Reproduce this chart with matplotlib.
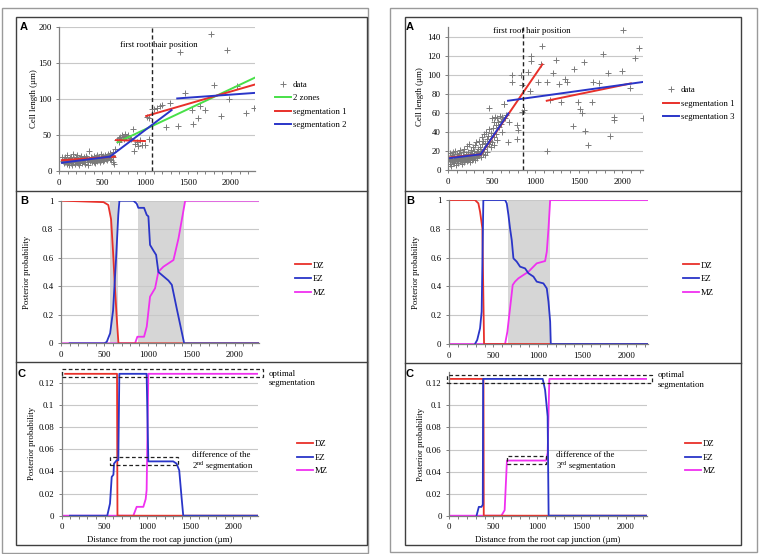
import numpy as np
import matplotlib
matplotlib.use("Agg")
import matplotlib.pyplot as plt
from matplotlib.lines import Line2D
from matplotlib.patches import Rectangle

plt.rcParams['font.family'] = ['Liberation Serif', 'DejaVu Serif']
plt.rcParams['font.size'] = 6.3
plt.rcParams['mathtext.fontset'] = 'custom'
plt.rcParams['mathtext.rm'] = 'Liberation Serif'

W, H = 759, 554

RED = '#e8302a'
BLUE = '#2a35c8'
MAGENTA = '#f030f0'
GREEN = '#48e048'
GREY_PTS = '#7a7a7a'

# ---------------- data: left panel A (cell length) ----------------
la_x = [30, 40, 50, 55, 65, 70, 80, 85, 95, 100, 105, 115, 120, 125, 135, 140, 145, 150,
        160, 165, 170, 180, 185, 190, 200, 205, 210, 220, 225, 230, 240, 245, 250, 260,
        265, 270, 280, 285, 290, 300, 305, 310, 320, 325, 330, 340, 345, 350, 360, 365,
        370, 380, 385, 390, 400, 405, 410, 420, 425, 430, 440, 445, 450, 460, 465, 470,
        480, 485, 490, 500, 505, 510, 520, 525, 530, 540, 545, 550, 560, 565, 570, 580,
        585, 590, 600, 605, 610, 620, 625, 630, 640, 650,
        670, 690, 700, 710, 720, 730, 740, 750, 760, 770, 780, 800, 820, 840, 860, 870,
        880, 900, 920, 940, 960, 1000, 1020, 1040, 1050,
        1080, 1100, 1140, 1170, 1200, 1240, 1290, 1380, 1410, 1470, 1545, 1553, 1618,
        1634, 1700, 1762, 1797, 1882, 1952, 1975, 2076, 2173, 2270]
la_y = [20, 14, 17, 11, 19, 13, 16, 10, 22, 15, 12, 9, 18, 14, 11, 20, 16, 8,
        13, 23, 17, 10, 15, 12, 19, 14, 22, 11, 16, 9, 18, 13, 21, 15,
        11, 17, 14, 19, 12, 16, 10, 21, 15, 18, 13, 8, 17, 28, 14, 20,
        16, 12, 18, 15, 21, 13, 17, 11, 19, 16, 14, 22, 18, 15, 20, 12,
        17, 23, 16, 19, 14, 21, 18, 16, 22, 17, 20, 15, 19, 24, 18, 21,
        17, 25, 20, 16, 22, 19, 12, 27, 10, 31,
        43, 46, 41, 48, 44, 50, 47, 45, 49, 52, 47, 50, 46, 44, 59, 28,
        38, 41, 35, 43, 36, 36, 75, 44, 74,
        86, 86, 87, 90, 92, 61, 94, 62, 165, 108, 85, 65, 74,
        90, 85, 191, 119, 77, 168, 100, 118, 81, 88]

# fitted lines, left A: (x_start, x_end), (y_start, y_end)
two_zones_x = [680, 2280]
two_zones_y = [40, 130]
seg1_left = [([30, 650], [15, 20]), ([660, 998], [43, 41.7]), ([1012, 2280], [76.5, 120.4])]
seg2_left = [([30, 590], [11.5, 20]), ([590, 1308], [20, 84.7]), ([1374, 2278], [101, 108.7])]
root_hair_left = 1076

# ---------------- data: right panel A ----------------
ra_x = [10, 15, 20, 25, 30, 35, 40, 45, 50, 55, 60, 65, 70, 75, 80, 85, 90, 95, 100, 105,
        110, 115, 120, 125, 130, 135, 140, 145, 150, 155, 160, 165, 170, 175, 180, 185,
        190, 195, 200, 205, 210, 215, 220, 225, 230, 235, 240, 245, 250, 255, 260, 265,
        270, 275, 280, 285, 290, 295, 300, 305, 310, 315, 320, 325, 330, 335, 340, 345,
        350, 360, 365, 370, 380, 385, 390, 395, 400, 410, 415, 420, 425, 430, 440, 445,
        450, 460, 465, 470, 480, 485, 490, 500, 505, 510, 520, 525, 530, 540, 545, 550,
        560, 565, 570, 580, 590, 600, 610, 620, 640, 650, 660, 690, 700,
        471, 644, 613, 732, 729, 786, 801, 786, 839, 851, 849, 867, 920, 943, 947, 954,
        1031, 1069, 1073, 1134, 1134, 1169, 1200, 1241, 1276, 1292, 1341, 1368, 1430,
        1445, 1491, 1510, 1537, 1563, 1571, 1602, 1652, 1667, 1736, 1778, 1832, 1858,
        1905, 1908, 1993, 2011, 2084, 2146, 2192, 2238]
ra_y = [12, 6, 18, 9, 14, 4, 11, 16, 8, 19, 12, 7, 15, 10, 20, 5, 13, 17, 9, 11,
        15, 7, 18, 12, 9, 14, 21, 10, 16, 6, 13, 19, 11, 15, 8, 22,
        14, 10, 17, 12, 25, 9, 15, 19, 11, 14, 27, 8, 17, 13, 21, 15,
        10, 18, 24, 12, 16, 20, 14, 26, 11, 17, 29, 15, 19, 13, 22, 16,
        30, 18, 24, 14, 20, 35, 27, 17, 31, 22, 38, 16, 28, 40, 25, 33,
        19, 36, 27, 43, 30, 24, 39, 55, 29, 44, 35, 50, 26, 56, 47, 38,
        55, 32, 50, 45, 57, 52, 48, 40, 69, 55, 58, 29, 50,
        65, 69, 56, 100, 93, 47, 42, 33, 100, 89, 61, 63, 103, 83, 115, 120,
        93, 111, 130, 93, 20, 74, 102, 116, 90, 71, 96, 92, 46,
        106, 72, 64, 60, 114, 41, 26, 72, 92, 91, 122, 102, 36,
        56, 53, 104, 147, 86, 118, 128, 55]

seg1_right = [([0, 372], [13, 16.5]), ([372, 1080], [16, 111]), ([1131, 2097], [72.8, 91])]
seg3_right = [([0, 372], [12.3, 16.5]), ([372, 690], [16.5, 59.5]), ([686, 2249], [72.8, 92.7])]
root_hair_right = 862

# ---------------- data: panel B (posterior probability) ----------------
lb_dz_x = [20, 490, 545, 577, 600, 620, 642, 662, 2285]
lb_dz_y = [1, 0.99, 0.97, 0.87, 0.64, 0.41, 0.18, 0, 0]
lb_ez_x = [100, 500, 527, 566, 600, 635, 660, 673, 834, 872, 891, 957, 988, 1007, 1026,
           1065, 1096, 1122, 1238, 1277, 1335, 1419, 2285]
lb_ez_y = [0, 0, 0.01, 0.07, 0.23, 0.6, 0.9, 1, 1, 0.98, 0.95, 0.95, 0.9, 0.89, 0.69,
           0.65, 0.62, 0.5, 0.44, 0.41, 0.24, 0, 0]
lb_mz_x = [0, 853, 880, 957, 988, 1026, 1084, 1122, 1180, 1296, 1354, 1431, 2285]
lb_mz_y = [0, 0, 0.046, 0.046, 0.117, 0.327, 0.386, 0.502, 0.537, 0.584, 0.736, 1, 1]
lb_spans = [(566, 661), (884, 1418)]

rb_dz_x = [0, 292, 330, 349, 375, 394, 2240]
rb_dz_y = [1, 1, 0.977, 0.919, 0.803, 0, 0]
rb_ez_x = [292, 317, 349, 367, 386, 630, 649, 668, 686, 705, 724, 761, 799, 855, 893,
           949, 986, 1061, 1099, 1118, 1137, 1144, 2240]
rb_ez_y = [0, 0.028, 0.109, 0.225, 1, 1, 0.977, 0.896, 0.803, 0.722, 0.595, 0.572, 0.537,
           0.525, 0.491, 0.468, 0.433, 0.421, 0.386, 0.294, 0.155, 0, 0]
rb_mz_x = [0, 630, 656, 686, 716, 742, 780, 836, 893, 949, 986, 1080, 1099, 1118, 1137, 2240]
rb_mz_y = [0, 0, 0.085, 0.248, 0.41, 0.433, 0.456, 0.479, 0.502, 0.537, 0.56, 0.576,
           0.641, 0.8, 1, 1]
rb_spans = [(660, 1137)]

# ---------------- data: panel C ----------------
lc_dz_x = [40, 645, 650, 2285]
lc_dz_y = [0.128, 0.128, 0, 0]
lc_ez_x = [97, 531, 563, 583, 603, 610, 641, 660, 672, 990, 1010, 1300, 1339, 1370, 1398,
           1417, 2285]
lc_ez_y = [0, 0, 0.011, 0.035, 0.037, 0.047, 0.05, 0.05, 0.128, 0.128, 0.049, 0.049,
           0.047, 0.041, 0.016, 0, 0]
lc_mz_x = [0, 835, 874, 952, 979, 990, 1010, 2285]
lc_mz_y = [0, 0, 0.008, 0.008, 0.015, 0.023, 0.128, 0.128]

rc_dz_x = [0, 388, 391, 2240]
rc_dz_y = [0.124, 0.124, 0, 0]
rc_ez_x = [309, 335, 365, 380, 384, 1060, 1087, 1116, 1127, 2240]
rc_ez_y = [0, 0.008, 0.008, 0.01, 0.124, 0.124, 0.114, 0.09, 0, 0]
rc_mz_x = [0, 591, 628, 654, 665, 1098, 1116, 1135, 2240]
rc_mz_y = [0, 0, 0.005, 0.05, 0.05, 0.05, 0.057, 0.124, 0.124]


def box(x0, y0, x1, y1):
    # pixel box (top-left origin) -> figure fraction rect
    return [x0 / W, 1 - y1 / H, (x1 - x0) / W, (y1 - y0) / H]


def fx(x):
    return x / W


def fy(y):
    return 1 - y / H


def style(ax, xmax, ymax, yticks, ylabels):
    ax.set_xlim(0, xmax)
    ax.set_ylim(0, ymax)
    ax.set_xticks([0, 500, 1000, 1500, 2000])
    ax.set_xticks(np.arange(0, xmax, 100), minor=True)
    ax.set_yticks(yticks)
    ax.set_yticklabels(ylabels)
    for s in ['top', 'right']:
        ax.spines[s].set_visible(False)
    for s in ['left', 'bottom']:
        ax.spines[s].set_color('#7f7f7f')
        ax.spines[s].set_linewidth(0.9)
    ax.grid(axis='y', color='#c8c8c8', lw=0.8)
    ax.set_axisbelow(True)
    ax.tick_params(which='both', direction='out', color='#7f7f7f', labelsize=6.3,
                   length=2.5, width=0.7, pad=3)
    ax.tick_params(axis='x', which='minor', length=2)
    ax.patch.set_alpha(0)


def legend(fig, handles, labels, x, y):
    fig.legend(handles, labels, loc='center left', bbox_to_anchor=(fx(x), fy(y)),
               frameon=False, fontsize=6.3, handlelength=1.85, handletextpad=0.2,
               labelspacing=0.62, borderpad=0, borderaxespad=0)


fig = plt.figure(figsize=(W / 100, H / 100), dpi=100)

# frames
for (x0, y0, x1, y1) in [(2, 8, 368, 553), (390, 8, 757, 552)]:
    fig.add_artist(Rectangle((fx(x0), fy(y1)), fx(x1 - x0), (y1 - y0) / H, fill=False,
                             ec='#9a9a9a', lw=1.0, transform=fig.transFigure))
for (x0, x1, seps) in [(16, 367, (190.7, 362)), (405, 741, (191, 363))]:
    fig.add_artist(Rectangle((fx(x0), fy(545)), fx(x1 - x0), (545 - 17) / H, fill=False,
                             ec='#404040', lw=1.0, transform=fig.transFigure))
    for s in seps:
        fig.add_artist(Line2D([fx(x0), fx(x1)], [fy(s), fy(s)], color='#404040', lw=1.0,
                              transform=fig.transFigure))

# ---- left A ----
ax = fig.add_axes(box(59.3, 27.3, 255, 171))
style(ax, 2280, 200, [0, 50, 100, 150, 200], ['0', '50', '100', '150', '200'])
ax.plot(la_x, la_y, '+', color=GREY_PTS, ms=4.5, mew=0.7)
ax.plot(two_zones_x, two_zones_y, color=GREEN, lw=1.4)
for xs, ys in seg1_left:
    ax.plot(xs, ys, color=RED, lw=1.4)
for xs, ys in seg2_left:
    ax.plot(xs, ys, color=BLUE, lw=1.4)
ax.axvline(root_hair_left, color='#222222', ls=(0, (3, 2)), lw=1.0)
ax.text(1157, 175, 'first root hair position', ha='center', va='center', fontsize=6.3)
fig.text(fx(34), fy(99), 'Cell length (µm)', rotation=90, ha='center', va='center',
         fontsize=6.3)
legend(fig,
       [Line2D([], [], ls='none', marker='+', color=GREY_PTS, ms=4.5, mew=0.7),
        Line2D([], [], color=GREEN, lw=1.4), Line2D([], [], color=RED, lw=1.4),
        Line2D([], [], color=BLUE, lw=1.4)],
       ['data', '2 zones', 'segmentation 1', 'segmentation 2'], 275, 105)

# ---- right A ----
ax = fig.add_axes(box(448.3, 27.3, 643.3, 170))
style(ax, 2240, 150, list(range(0, 141, 20)), [str(v) for v in range(0, 141, 20)])
ax.plot(ra_x, ra_y, '+', color=GREY_PTS, ms=4.5, mew=0.7)
for xs, ys in seg1_right:
    ax.plot(xs, ys, color=RED, lw=1.4)
for xs, ys in seg3_right:
    ax.plot(xs, ys, color=BLUE, lw=1.4)
ax.axvline(root_hair_right, color='#222222', ls=(0, (3, 2)), lw=1.0)
ax.text(958, 146.5, 'first root hair position', ha='center', va='center', fontsize=6.3)
fig.text(fx(420), fy(97), 'Cell length (µm)', rotation=90, ha='center', va='center',
         fontsize=6.3)
legend(fig,
       [Line2D([], [], ls='none', marker='+', color=GREY_PTS, ms=4.5, mew=0.7),
        Line2D([], [], color=RED, lw=1.4), Line2D([], [], color=BLUE, lw=1.4)],
       ['data', 'segmentation 1', 'segmentation 3'], 663, 103.5)

prob_ticks = [0, 0.2, 0.4, 0.6, 0.8, 1]
prob_labels = ['0', '0.2', '0.4', '0.6', '0.8', '1']
c_ticks = [0, 0.02, 0.04, 0.06, 0.08, 0.1, 0.12]
c_labels = ['0', '0.02', '0.04', '0.06', '0.08', '0.1', '0.12']
zone_handles = [Line2D([], [], color=RED, lw=1.3), Line2D([], [], color=BLUE, lw=1.3),
                Line2D([], [], color=MAGENTA, lw=1.3)]

# ---- B panels ----
for (rect, xmax, dz, ez, mz, spans, ylx, lgx) in [
        ((61, 200.7, 259.3, 343.3), 2285, (lb_dz_x, lb_dz_y), (lb_ez_x, lb_ez_y),
         (lb_mz_x, lb_mz_y), lb_spans, 27, 295),
        ((449, 200, 648.3, 344), 2240, (rb_dz_x, rb_dz_y), (rb_ez_x, rb_ez_y),
         (rb_mz_x, rb_mz_y), rb_spans, 415.7, 683)]:
    ax = fig.add_axes(box(*rect))
    style(ax, xmax, 1, prob_ticks, prob_labels)
    for a, b in spans:
        ax.axvspan(a, b, color='#d6d6d6', lw=0, zorder=0.5)
    ax.plot(*mz, color=MAGENTA, lw=1.3)
    ax.plot(*dz, color=RED, lw=1.3)
    ax.plot(*ez, color=BLUE, lw=1.3)
    fig.text(fx(ylx), fy((rect[1] + rect[3]) / 2), 'Posterior probability', rotation=90,
             ha='center', va='center', fontsize=6.3)
    legend(fig, zone_handles, ['DZ', 'EZ', 'MZ'], lgx, 279)

# ---- C panels ----
for (rect, xmax, dz, ez, mz, opt, opt_txt_y, diff, sup, txtx, ylx, lgx) in [
        ((61.7, 371.6, 257.7, 515.7), 2285, (lc_dz_x, lc_dz_y), (lc_ez_x, lc_ez_y),
         (lc_mz_x, lc_mz_y), (0, 2350, 0.1247, 0.1319), 0.124,
         (563, 1359, 0.0457, 0.0532), '2$^{\\rm nd}$', 1520, 32, 297),
        ((449.3, 372.3, 646.7, 515.7), 2240, (rc_dz_x, rc_dz_y), (rc_ez_x, rc_ez_y),
         (rc_mz_x, rc_mz_y), (-30, 2300, 0.12, 0.1276), 0.123,
         (658, 1098, 0.0469, 0.0541), '3$^{\\rm rd}$', 1211, 420.7, 685)]:
    ax = fig.add_axes(box(*rect))
    style(ax, xmax, 0.13, c_ticks, c_labels)
    ax.plot(*mz, color=MAGENTA, lw=1.3)
    ax.plot(*dz, color=RED, lw=1.3)
    ax.plot(*ez, color=BLUE, lw=1.3)
    for (x0, x1, y0, y1) in [opt, diff]:
        ax.add_patch(Rectangle((x0, y0), x1 - x0, y1 - y0, fill=False, ec='#222222',
                               ls=(0, (3, 2)), lw=0.9, clip_on=False, zorder=5))
    ax.text(opt[1] + 60, opt_txt_y, 'optimal\nsegmentation', ha='left',
            va='center', fontsize=6.3, linespacing=1.25)
    ax.text(txtx, 0.0547, 'difference of the', ha='left', va='center', fontsize=6.3)
    ax.text(txtx, 0.0448, sup + ' segmentation', ha='left', va='center', fontsize=6.3)
    ax.set_xlabel('Distance from the root cap junction (µm)', fontsize=6.3, labelpad=3)
    fig.text(fx(ylx), fy((rect[1] + rect[3]) / 2), 'Posterior probability', rotation=90,
             ha='center', va='center', fontsize=6.3)
    legend(fig, zone_handles, ['DZ', 'EZ', 'MZ'], lgx, 457.5)

# panel letters
for (x, y, s) in [(24, 27, 'A'), (24, 201, 'B'), (22, 374, 'C'),
                  (410, 27, 'A'), (410, 201, 'B'), (410, 374, 'C')]:
    fig.text(fx(x), fy(y), s, ha='center', va='center', fontsize=8, fontweight='bold',
             family='Liberation Sans')

fig.savefig('out.png', dpi=100)
